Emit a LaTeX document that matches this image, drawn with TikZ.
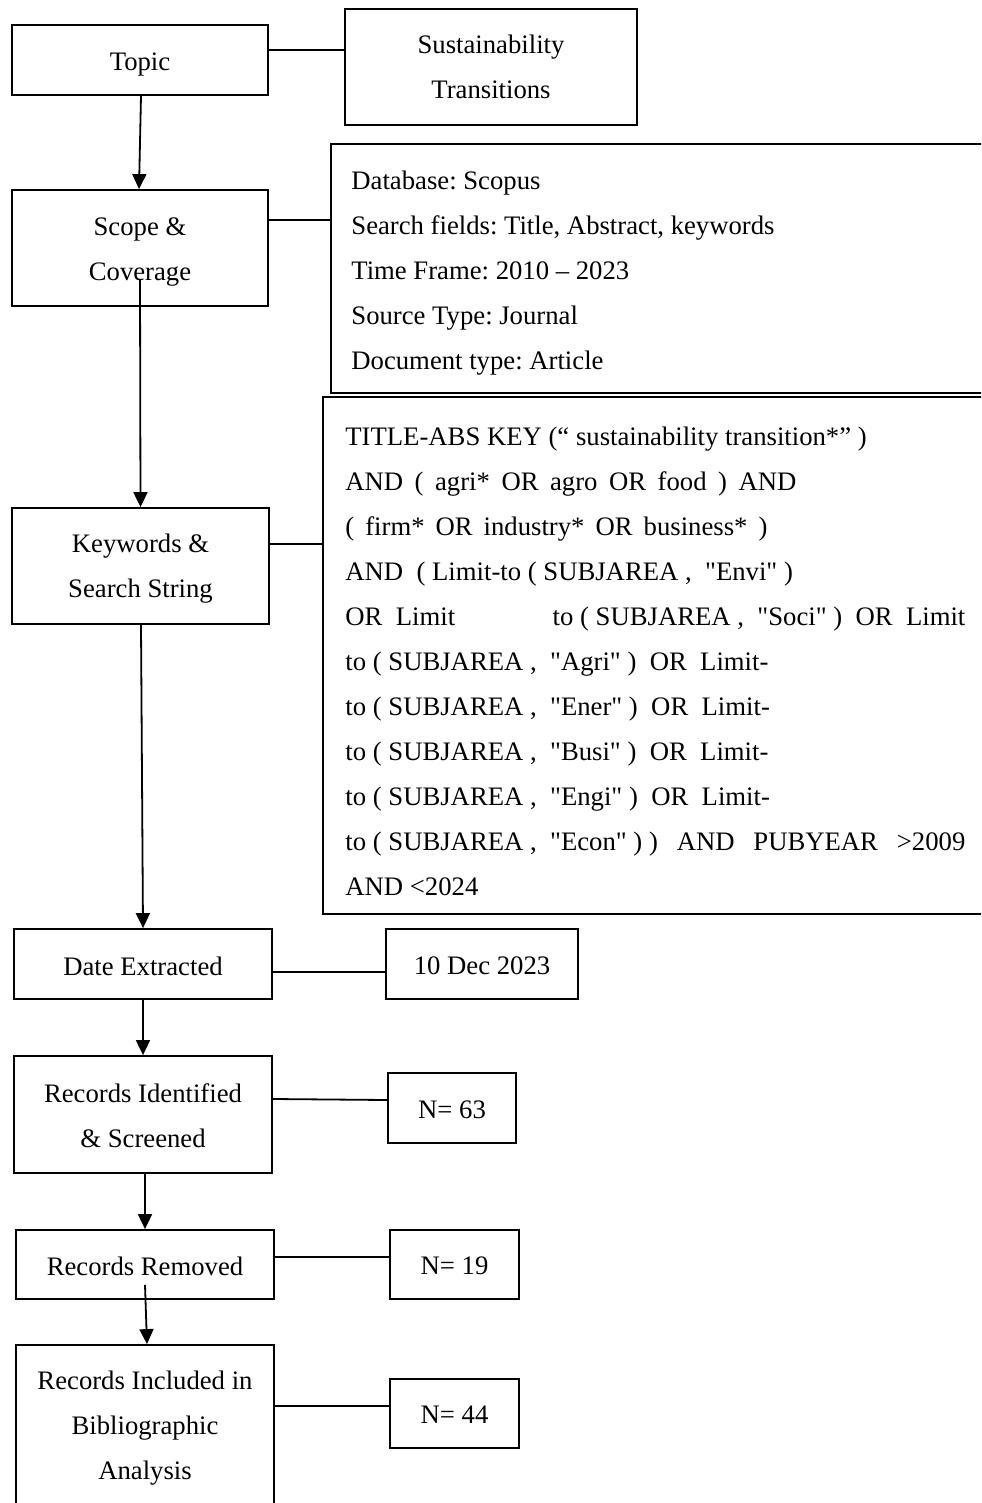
\documentclass[tikz,border=0pt]{standalone}
\usepackage{fontspec}
\setmainfont{Liberation Serif}[Ligatures=TeXOff]
\usetikzlibrary{arrows.meta,calc}
\begin{document}
\frenchspacing
\begin{tikzpicture}[x=0.5pt,y=-0.5pt,
  box/.style={draw, line width=0.9pt, inner sep=0pt},
  txt/.style={font=\fontsize{13.35pt}{22.5pt}\selectfont\frenchspacing, align=center, inner sep=0pt},
  ln/.style={line width=0.9pt},
  arr/.style={line width=0.9pt, -{Triangle[length=7.5pt,width=7pt]}}]
\useasboundingbox (0,0) rectangle (981,1503);
\clip (0,0) rectangle (981,1503);

% left column
\node[box, minimum width=128pt, minimum height=35pt] (topic) at (140,60) {};
\node[txt] (topictext) at (140,65) {Topic};
\node[box, minimum width=128pt, minimum height=58pt] (scope) at (140,248) {};
\node[txt] (scopetext) at (140,252) {Scope \&\\Coverage};
\node[box, minimum width=128.5pt, minimum height=58pt] (kw) at (140.5,566) {};
\node[txt] (kwtext) at (140.5,569) {Keywords \&\\Search String};
\node[box, minimum width=129pt, minimum height=35pt] (date) at (143,964) {};
\node[txt] (datetext) at (143,966) {Date Extracted};
\node[box, minimum width=129pt, minimum height=58.5pt] (rec) at (143,1114.5) {};
\node[txt] (rectext) at (143,1116) {Records Identified\\\& Screened};
\node[box, minimum width=129pt, minimum height=34.5pt] (rem) at (145,1264.5) {};
\node[txt] (remtext) at (145,1266) {Records Removed};
\node[box, minimum width=129pt, minimum height=87.5pt] (inc) at (145,1432.5) {};
\node[txt] (inctext) at (145,1428) {Records Included in\\Bibliographic\\Analysis};

% right column
\node[box, txt, minimum width=146pt, minimum height=58pt] (sust) at (491,67) {Sustainability\\Transitions};
\node[box, minimum width=334.5pt, minimum height=124.5pt] (db) at (665.5,268.5) {};
\node[txt, align=left, anchor=west] (dbtext) at (351,273) {Database: Scopus\\Search fields: Title, Abstract, keywords\\Time Frame: 2010 – 2023\\Source Type: Journal\\Document type: Article};
\node[box, minimum width=338.5pt, minimum height=258.5pt] (search) at (661.5,655.5) {};
\node[txt, align=left, anchor=west] (searchtext) at (345,661) {%
TITLE-ABS KEY (“ sustainability transition*” )\\
\makebox[225.5pt][s]{AND ( agri* OR agro OR food ) AND}\\
\makebox[211pt][s]{( firm* OR industry* OR business* )}\\
\makebox[223pt][l]{AND\ \ ( Limit-to ( SUBJAREA ,\ \ "Envi"\ )}\\
\makebox[310pt][l]{OR\ \ Limit\hfill to ( SUBJAREA ,\ \ "Soci"\ )\ \ OR\ \ Limit}\\
\makebox[211pt][l]{to ( SUBJAREA ,\ \ "Agri"\ )\ \ OR\ \ Limit-}\\
\makebox[212pt][l]{to ( SUBJAREA ,\ \ "Ener"\ )\ \ OR\ \ Limit-}\\
\makebox[211pt][l]{to ( SUBJAREA ,\ \ "Busi"\ )\ \ OR\ \ Limit-}\\
\makebox[212pt][l]{to ( SUBJAREA ,\ \ "Engi"\ )\ \ OR\ \ Limit-}\\
\makebox[310pt][l]{to ( SUBJAREA ,\ \ "Econ"\ ) )\hfill AND\hfill PUBYEAR\hfill >2009}\\
AND <2024};
\node[box, minimum width=96pt, minimum height=35pt] (dec) at (482,964) {};
\node[txt] (dectext) at (482,966) {10 Dec 2023};
\node[box, minimum width=64pt, minimum height=35pt] (n63) at (452,1108) {};
\node[txt] (n63text) at (452,1110) {N= 63};
\node[box, minimum width=64.5pt, minimum height=34.5pt] (n19) at (454.5,1264.5) {};
\node[txt] (n19text) at (454.5,1266) {N= 19};
\node[box, minimum width=64.5pt, minimum height=34.5pt] (n44) at (454.5,1413.5) {};
\node[txt] (n44text) at (454.5,1415) {N= 44};

% horizontal connectors
\draw[ln] (topic.east |- 0,50) -- (sust.west |- 0,50);
\draw[ln] (scope.east |- 0,220) -- (db.west |- 0,220);
\draw[ln] (kw.east |- 0,544) -- (search.west |- 0,544);
\draw[ln] (date.east |- 0,972) -- (dec.west |- 0,972);
\draw[ln] (rec.east |- 0,1099) -- (n63.west |- 0,1100);
\draw[ln] (rem.east |- 0,1257) -- (n19.west |- 0,1257);
\draw[ln] (inc.east |- 0,1406) -- (n44.west |- 0,1406);

% vertical arrows
\draw[arr] ($(topic.south)+(1,0)$) -- ($(scope.north)+(-1,0)$);
\draw[arr] ($(scope.south)+(0,-28)$) -- (kw.north);
\draw[arr] ($(kw.south)+(0.5,0)$) -- (date.north);
\draw[arr] (date.south) -- (rec.north);
\draw[arr] ($(rec.south)+(2,0)$) -- (rem.north);
\draw[arr] ($(rem.south)+(0,-15)$) -- ($(inc.north)+(2,0)$);
\end{tikzpicture}
\end{document}
